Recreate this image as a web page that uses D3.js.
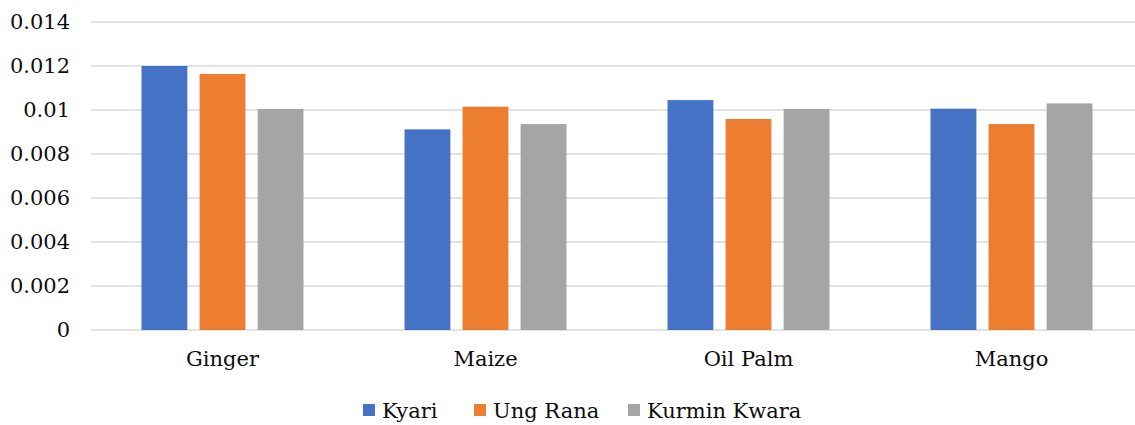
<!DOCTYPE html>
<html>
<head>
<meta charset="utf-8">
<script src="https://cdn.jsdelivr.net/npm/d3@7"></script>
<style>
  html, body { margin: 0; padding: 0; background: #fff; }
  svg { display: block; }
  text { font-family: "DejaVu Serif", "Liberation Serif", serif; fill: #0d0d0d; }
</style>
</head>
<body>
<svg id="chart" width="1135" height="425"></svg>
<script>
const categories = ["Ginger", "Maize", "Oil Palm", "Mango"];
const seriesNames = ["Kyari", "Ung Rana", "Kurmin Kwara"];
const kyari = [0.01200, 0.00912, 0.01045, 0.01006];
const ungRana = [0.01164, 0.01015, 0.00959, 0.00936];
const kurminKwara = [0.01005, 0.00936, 0.01005, 0.01030];
const yTicks = [0, 0.002, 0.004, 0.006, 0.008, 0.01, 0.012, 0.014];
const colors = ["#4472C4", "#ED7D31", "#A5A5A5"];

const seriesValues = [kyari, ungRana, kurminKwara];
const svg = d3.select("#chart");
const W = 1135, H = 425;
const plotLeft = 91, plotTop = 22, plotBottom = 330;
const bandRight = 91 + 4 * 263;

const y = d3.scaleLinear().domain([0, 0.014]).range([plotBottom, plotTop]);
const x0 = d3.scaleBand().domain(categories).range([plotLeft, bandRight]).padding(0);
const groupPad = 50.5;
const x1 = d3.scaleBand().domain(seriesNames)
  .range([groupPad, x0.bandwidth() - groupPad]).paddingInner(0.21).paddingOuter(0);

// gridlines
svg.append("g").selectAll("line").data(yTicks).join("line")
  .attr("x1", plotLeft).attr("x2", W)
  .attr("y1", d => y(d)).attr("y2", d => y(d))
  .attr("stroke", "#d9d9d9").attr("stroke-width", 1.3);

// y tick labels
svg.append("g").selectAll("text").data(yTicks).join("text")
  .attr("x", 70).attr("y", d => y(d))
  .attr("dy", "0.35em")
  .attr("text-anchor", "end")
  .style("font-size", "21px")
  .text(d => d === 0 ? "0" : String(+d.toFixed(3)));

// bars
const groups = svg.append("g").selectAll("g").data(categories).join("g")
  .attr("transform", d => `translate(${x0(d)},0)`);
groups.selectAll("rect")
  .data((c, i) => seriesNames.map((s, j) => ({ s, j, v: seriesValues[j][i] })))
  .join("rect")
  .attr("x", d => x1(d.s))
  .attr("width", x1.bandwidth())
  .attr("y", d => y(d.v))
  .attr("height", d => y(0) - y(d.v))
  .attr("fill", d => colors[d.j]);

// x labels
svg.append("g").selectAll("text").data(categories).join("text")
  .attr("x", d => x0(d) + x0.bandwidth() / 2)
  .attr("y", 366)
  .attr("text-anchor", "middle")
  .style("font-size", "21px")
  .text(d => d);

// legend
const legendX = [363, 474, 628];
const leg = svg.append("g").selectAll("g").data(seriesNames).join("g")
  .attr("transform", (d, i) => `translate(${legendX[i]},0)`);
leg.append("rect").attr("x", 0).attr("y", 404).attr("width", 12).attr("height", 12)
  .attr("fill", (d, i) => colors[i]);
leg.append("text").attr("x", 19).attr("y", 418)
  .style("font-size", "21px").text(d => d);
</script>
</body>
</html>
